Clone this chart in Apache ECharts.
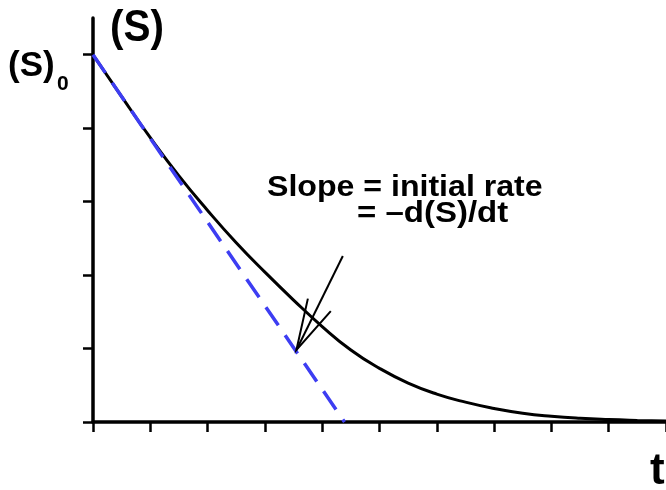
<!DOCTYPE html>
<html>
<head>
<meta charset="utf-8">
<script src="https://cdn.jsdelivr.net/npm/echarts@6/dist/echarts.min.js"></script>
<style>
  html, body { margin: 0; padding: 0; background: #fff; }
  #chart { width: 666px; height: 490px; }
</style>
</head>
<body>
<div id="chart"></div>
<script>
// substrate depletion curve (t in tick units, S in tick units)
let timePoints = [0, 0.5, 1, 1.5, 2, 2.5, 3, 3.5, 4, 4.5, 5, 5.5, 6, 6.5, 7, 7.5, 8, 8.5, 9, 9.5, 10];
let substrate = [5.0, 4.43, 3.87, 3.35, 2.88, 2.44, 2.04, 1.66, 1.30, 0.98, 0.73, 0.53, 0.38, 0.27, 0.185, 0.12, 0.078, 0.05, 0.033, 0.022, 0.014];
// initial-rate tangent: starts at (S)0, hits the t axis here
let tangentT = [0, 4.39];
let tangentS = [5, 0];
// arrow pointing at the tangent
let arrowShaft = [[4.36, 2.26], [3.55, 0.98]];
let arrowHead = [[3.75, 1.68], [3.55, 0.98], [4.15, 1.51]];
let xTicks = [0, 1, 2, 3, 4, 5, 6, 7, 8, 9, 10];
let yTicks = [0, 1, 2, 3, 4, 5];

let curveData = timePoints.map(function (t, i) { return [t, substrate[i]]; });
let tangentData = tangentT.map(function (t, i) { return [t, tangentS[i]]; });

let fontName = '"Liberation Sans", Arial, sans-serif';

let chartElem = document.getElementById('chart');
if (chartElem) {
  let chart = echarts.init(chartElem);
  chart.setOption({
    animation: false,
    backgroundColor: '#fff',
    grid: {
      left: 93,
      right: 0,
      top: 18,
      bottom: 68,
      outerBoundsMode: 'none'
    },
    xAxis: {
      type: 'value',
      min: 0,
      max: 10,
      axisLine: { show: true, lineStyle: { color: '#000', width: 3.5 } },
      axisTick: {
        show: true,
        customValues: xTicks,
        length: 10,
        lineStyle: { color: '#000', width: 2.5 }
      },
      axisLabel: { show: false },
      splitLine: { show: false }
    },
    yAxis: {
      type: 'value',
      min: 0,
      max: 5.5,
      axisLine: { show: true, lineStyle: { color: '#000', width: 3.5 } },
      axisTick: {
        show: true,
        customValues: yTicks,
        length: 10,
        lineStyle: { color: '#000', width: 2.5 }
      },
      axisLabel: { show: false },
      splitLine: { show: false }
    },
    series: [
      {
        name: 'curve',
        type: 'line',
        data: curveData,
        smooth: 0.5,
        symbol: 'none',
        lineStyle: { color: '#000', width: 3 },
        z: 2
      },
      {
        name: 'tangent',
        type: 'line',
        data: tangentData,
        symbol: 'none',
        lineStyle: { color: '#3d3df2', width: 3.5, type: [22, 12] },
        z: 3
      },
      {
        name: 'shaft',
        type: 'line',
        data: arrowShaft,
        symbol: 'none',
        lineStyle: { color: '#000', width: 2 },
        z: 4
      },
      {
        name: 'head',
        type: 'line',
        data: arrowHead,
        symbol: 'none',
        lineStyle: { color: '#000', width: 2, join: 'miter' },
        z: 4
      }
    ],
    graphic: [
      {
        type: 'text', x: 110, y: 7, scaleX: 0.92,
        style: { text: '(S)', font: 'bold 44px ' + fontName, fill: '#000' }
      },
      {
        type: 'text', x: 8, y: 49,
        style: { text: '(S)', font: 'bold 35px ' + fontName, fill: '#000' }
      },
      {
        type: 'text', x: 57, y: 74,
        style: { text: '0', font: 'bold 21px ' + fontName, fill: '#000' }
      },
      {
        type: 'text', x: 267, y: 173, scaleX: 1.07,
        style: { text: 'Slope = initial rate', font: 'bold 30px ' + fontName, fill: '#000' }
      },
      {
        type: 'text', x: 357, y: 199, scaleX: 1.1,
        style: { text: '= \u2013d(S)/dt', font: 'bold 30px ' + fontName, fill: '#000' }
      },
      {
        type: 'text', x: 650, y: 450,
        style: { text: 't', font: 'bold 44px ' + fontName, fill: '#000' }
      }
    ]
  });
}
</script>
</body>
</html>
